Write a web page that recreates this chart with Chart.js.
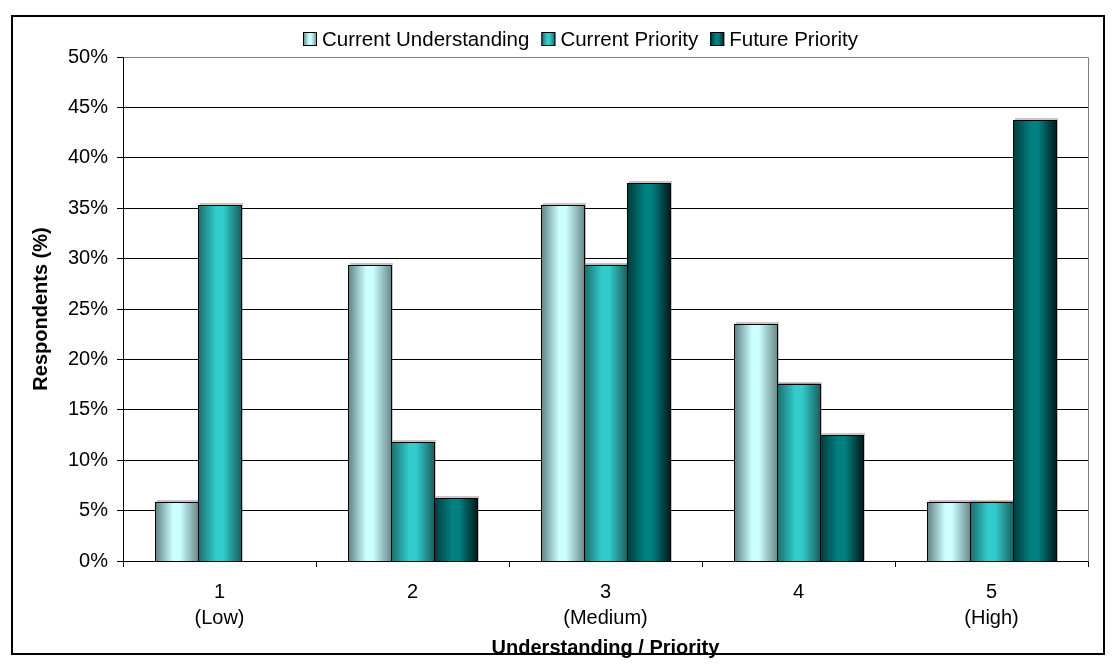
<!DOCTYPE html>
<html>
<head>
<meta charset="utf-8">
<script src="https://cdn.jsdelivr.net/npm/chart.js@4.4.1/dist/chart.umd.min.js"></script>
<style>
  html, body { margin: 0; padding: 0; background: #fff; }
  #wrap { width: 1117px; height: 664px; position: relative; }
</style>
</head>
<body>
<div id="wrap"><canvas id="respondents_chart"></canvas></div>
<script>
// values (percent of respondents)
const categories = [["1", "(Low)"], ["2"], ["3", "(Medium)"], ["4"], ["5", "(High)"]];
const seriesNames = ["Current Understanding", "Current Priority", "Future Priority"];
const currentUnderstanding = [5.9, 29.4, 35.3, 23.5, 5.9];
const currentPriority = [35.3, 11.8, 29.4, 17.6, 5.9];
const futurePriority = [0, 6.25, 37.5, 12.5, 43.75];
const yTicks = [0, 5, 10, 15, 20, 25, 30, 35, 40, 45, 50];

// horizontal gradient stops for each series: edge, highlight, edge
const shades = [
    ["#5e7f7f", "#ccffff", "#6a8c8c"],
    ["#1b6b6b", "#33cccc", "#1a6262"],
    ["#023a3a", "#018080", "#001e1e"]
];
const FONT = "'Liberation Sans', Arial, sans-serif";

function barGradient(ctx, left, right, s) {
    const g = ctx.createLinearGradient(left, 0, right, 0);
    g.addColorStop(0, shades[s][0]);
    g.addColorStop(0.42, shades[s][1]);
    g.addColorStop(0.58, shades[s][1]);
    g.addColorStop(1, shades[s][2]);
    return g;
}

// bars with a sideways shading and a thin black outline
const shadedBars = {
    id: 'shadedBars',
    beforeDraw(chart) {
        const ctx = chart.ctx;
        ctx.save();
        ctx.fillStyle = '#fff';
        ctx.fillRect(0, 0, chart.width, chart.height);
        ctx.restore();
    },
    afterDatasetsDraw(chart) {
        const ctx = chart.ctx;
        const area = chart.chartArea;
        ctx.save();
        // top and right edge of the plot area
        ctx.strokeStyle = '#7f7f7f';
        ctx.lineWidth = 1;
        ctx.beginPath();
        ctx.moveTo(Math.round(area.left) + 0.5, Math.round(area.top) + 0.5);
        ctx.lineTo(Math.round(area.right) + 0.5, Math.round(area.top) + 0.5);
        ctx.lineTo(Math.round(area.right) + 0.5, Math.round(area.bottom) + 0.5);
        ctx.stroke();

        chart.data.datasets.forEach((ds, i) => {
            const meta = chart.getDatasetMeta(i);
            meta.data.forEach(el => {
                const p = el.getProps(['x', 'y', 'base', 'width'], true);
                const left = Math.round(p.x - p.width / 2);
                const right = Math.round(p.x + p.width / 2);
                const top = Math.round(Math.min(p.y, p.base));
                const bottom = Math.round(Math.max(p.y, p.base));
                if (bottom - top < 1) return;
                ctx.fillStyle = 'rgba(0,0,0,0.22)';
                ctx.fillRect(left + 2, top - 2, right - left, bottom - top + 2);
                ctx.fillStyle = barGradient(ctx, left, right, i);
                ctx.fillRect(left, top, right - left, bottom - top);
                ctx.strokeStyle = '#000';
                ctx.lineWidth = 1;
                ctx.strokeRect(left + 0.5, top + 0.5, right - left, bottom - top);
            });
        });
        ctx.restore();
    },
    afterDraw(chart) {
        const ctx = chart.ctx;
        ctx.save();
        // outer frame
        ctx.strokeStyle = '#000';
        ctx.lineWidth = 2;
        ctx.strokeRect(12, 16, 1092, 638);

        // legend
        ctx.font = "20.5px " + FONT;
        ctx.textBaseline = 'middle';
        const box = 14, gap = 5, itemGap = 12;
        const widths = seriesNames.map(n => box + gap + ctx.measureText(n).width);
        const total = widths.reduce((a, b) => a + b, 0) + itemGap * (seriesNames.length - 1);
        let x = Math.round(580 - total / 2);
        const cy = 39;
        seriesNames.forEach((n, i) => {
            const bx = x, by = cy - box / 2;
            ctx.fillStyle = barGradient(ctx, bx, bx + box, i);
            ctx.fillRect(bx, by, box, box);
            ctx.strokeStyle = '#000';
            ctx.lineWidth = 1;
            ctx.strokeRect(bx + 0.5, by + 0.5, box - 1, box - 1);
            ctx.fillStyle = '#000';
            ctx.fillText(n, bx + box + gap, cy + 1);
            x += widths[i] + itemGap;
        });
        ctx.restore();
    }
};

const ctx = document.getElementById("respondents_chart");
const respondents_chart = new Chart(ctx, {
    type: 'bar',
    data: {
        labels: categories,
        datasets: [
            { label: seriesNames[0], data: currentUnderstanding, backgroundColor: shades[0][1] },
            { label: seriesNames[1], data: currentPriority, backgroundColor: shades[1][1] },
            { label: seriesNames[2], data: futurePriority, backgroundColor: shades[2][1] }
        ]
    },
    options: {
        responsive: true,
        maintainAspectRatio: false,
        animation: false,
        layout: {
            padding: { left: 14, right: 29, top: 57, bottom: 4 }
        },
        datasets: {
            bar: {
                categoryPercentage: 0.667,
                barPercentage: 1.0,
                borderWidth: 0
            }
        },
        plugins: {
            legend: { display: false },
            tooltip: { enabled: false }
        },
        scales: {
            x: {
                grid: {
                    display: true,
                    drawOnChartArea: false,
                    offset: true,
                    color: '#000',
                    tickLength: 6
                },
                border: { display: true, color: '#000', width: 1 },
                ticks: {
                    color: '#000',
                    font: { family: FONT, size: 20, lineHeight: 1.3 },
                    padding: 12,
                    maxRotation: 0
                },
                title: {
                    display: true,
                    text: 'Understanding / Priority',
                    color: '#000',
                    font: { family: FONT, size: 20, weight: 'bold' },
                    padding: { top: 0, bottom: 0 }
                },
                afterFit(scale) { scale.height = 99; }
            },
            y: {
                min: 0,
                max: 50,
                afterBuildTicks(scale) { scale.ticks = yTicks.map(v => ({ value: v })); },
                grid: {
                    color: '#000',
                    lineWidth: 1,
                    tickLength: 6
                },
                border: { display: true, color: '#000', width: 1 },
                ticks: {
                    color: '#000',
                    font: { family: FONT, size: 20 },
                    padding: 9,
                    callback: v => v + '%'
                },
                title: {
                    display: true,
                    text: 'Respondents (%)',
                    color: '#000',
                    font: { family: FONT, size: 20, weight: 'bold' },
                    padding: { top: 15, bottom: 0 }
                },
                afterFit(scale) { scale.width = 109; }
            }
        }
    },
    plugins: [shadedBars]
});
</script>
</body>
</html>
